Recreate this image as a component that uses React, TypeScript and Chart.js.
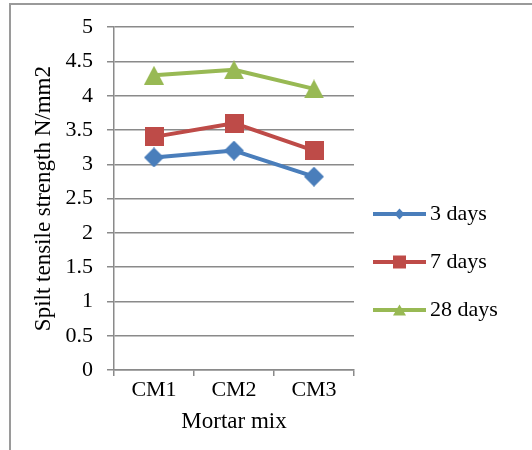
import React, { useEffect, useRef } from 'react';
import { Chart, registerables } from 'chart.js';

Chart.register(...registerables);

const categories = ['CM1', 'CM2', 'CM3'];
const seriesNames = ['3 days', '7 days', '28 days'];
const days3 = [3.1, 3.2, 2.82];
const days7 = [3.4, 3.6, 3.2];
const days28 = [4.3, 4.38, 4.1];
const yTickLabels = ['0', '0.5', '1', '1.5', '2', '2.5', '3', '3.5', '4', '4.5', '5'];
const xTitle = 'Mortar mix';
const yTitle = 'Spilt tensile strength N/mm2';

const lineColors = ['#4A7EBB', '#BE4B48', '#98B954'];
const shapes = ['diamond', 'square', 'triangle'];
const markerSizes: [number, number][] = [[20, 20], [19, 19], [20, 19]];
const legendMarkerSizes: [number, number][] = [[10, 11], [13, 13], [13, 11]];
const GRID = '#8a8a8a';
const FONT = "'Liberation Serif', 'Times New Roman', serif";

function drawShape(ctx: CanvasRenderingContext2D, shape: string, cx: number, cy: number, w: number, h: number, color: string) {
  ctx.fillStyle = color;
  ctx.beginPath();
  if (shape === 'diamond') {
    ctx.moveTo(cx, cy - h / 2);
    ctx.lineTo(cx + w / 2, cy);
    ctx.lineTo(cx, cy + h / 2);
    ctx.lineTo(cx - w / 2, cy);
  } else if (shape === 'square') {
    ctx.rect(cx - w / 2, cy - h / 2, w, h);
  } else {
    ctx.moveTo(cx, cy - h / 2);
    ctx.lineTo(cx + w / 2, cy + h / 2);
    ctx.lineTo(cx - w / 2, cy + h / 2);
  }
  ctx.closePath();
  ctx.fill();
}

function makeMarker(shape: string, w: number, h: number, color: string) {
  const c = document.createElement('canvas');
  c.width = w;
  c.height = h;
  const ctx = c.getContext('2d')!;
  drawShape(ctx, shape, w / 2, h / 2, w, h, color);
  return c;
}

function makeLegendIcon(shape: string, w: number, h: number, color: string) {
  const c = document.createElement('canvas');
  c.width = 53;
  c.height = 22;
  const ctx = c.getContext('2d')!;
  ctx.strokeStyle = color;
  ctx.lineWidth = 4;
  ctx.beginPath();
  ctx.moveTo(0, 11);
  ctx.lineTo(53, 11);
  ctx.stroke();
  drawShape(ctx, shape, 26.5, 11, w, h, color);
  return c;
}

const framePlugin = {
  id: 'frame',
  beforeDraw(chart: any) {
    const ctx = chart.ctx;
    ctx.save();
    ctx.fillStyle = '#9a9a9a';
    ctx.fillRect(9, 3, chart.width - 9, 2);
    ctx.fillRect(9, 3, 2, chart.height - 3);
    ctx.restore();
  },
};

const legendWidthPlugin = {
  id: 'legendWidth',
  beforeLayout(chart: any) {
    const lg = chart.legend;
    if (lg && !lg.__patched) {
      const orig = lg.fit;
      lg.fit = function () {
        orig.call(this);
        this.width = 178;
      };
      lg.__patched = true;
    }
  },
};

export default function App() {
  const ref = useRef<HTMLCanvasElement>(null);

  useEffect(() => {
    if (!ref.current) return;
    Chart.defaults.font.family = FONT;
    Chart.defaults.font.size = 22;
    Chart.defaults.color = '#000';

    const values = [days3, days7, days28];
    const markers = shapes.map((s, i) => makeMarker(s, markerSizes[i][0], markerSizes[i][1], lineColors[i]));
    const legendIcons = shapes.map((s, i) => makeLegendIcon(s, legendMarkerSizes[i][0], legendMarkerSizes[i][1], lineColors[i]));

    const chart = new Chart(ref.current, {
      type: 'line',
      data: {
        labels: categories,
        datasets: seriesNames.map((name, i) => ({
          label: name,
          data: values[i],
          borderColor: lineColors[i],
          backgroundColor: lineColors[i],
          borderWidth: 4,
          borderJoinStyle: 'round',
          tension: 0,
          pointStyle: markers[i] as any,
          pointRadius: 10,
          fill: false,
        })),
      },
      options: {
        responsive: false,
        maintainAspectRatio: false,
        animation: false,
        events: [],
        layout: { padding: { top: 24, right: 0, bottom: 0, left: 0 } },
        scales: {
          x: {
            type: 'category',
            offset: true,
            grid: {
              display: true,
              drawOnChartArea: false,
              drawTicks: true,
              tickLength: 6,
              offset: true,
              color: GRID,
              lineWidth: 1.5,
            },
            border: { color: GRID, width: 1.5 },
            ticks: { padding: 1, color: '#000', font: { size: 22 } },
            title: {
              display: true,
              text: xTitle,
              color: '#000',
              font: { size: 23 },
              padding: { top: 0, bottom: 14.5 },
            },
            afterFit: (s: any) => {
              s.height = 80;
            },
          },
          y: {
            min: 0,
            max: 5,
            ticks: {
              stepSize: 0.5,
              padding: 14,
              color: '#000',
              font: { size: 22 },
              callback: (_v: any, i: number) => yTickLabels[i],
            },
            grid: { color: GRID, lineWidth: 1.5, tickLength: 7, drawTicks: true },
            border: { color: GRID, width: 1.5 },
            title: {
              display: true,
              text: yTitle,
              color: '#000',
              font: { size: 23 },
              padding: { top: 30.5, bottom: 0 },
            },
            afterFit: (s: any) => {
              s.width = 114;
            },
          },
        },
        plugins: {
          tooltip: { enabled: false },
          legend: {
            position: 'right',
            align: 'center',
            title: {
              display: true,
              text: '',
              padding: { top: 35.6, bottom: 0 },
              font: { size: 12, lineHeight: 1.2 },
            },
            labels: {
              usePointStyle: true,
              pointStyleWidth: 39,
              padding: 26,
              color: '#000',
              font: { size: 22 },
              generateLabels: (ch: any) => {
                const items = (Chart.defaults.plugins.legend.labels as any).generateLabels(ch);
                return items.map((it: any) => ({ ...it, pointStyle: legendIcons[it.datasetIndex] }));
              },
            },
          },
        },
      } as any,
      plugins: [framePlugin, legendWidthPlugin],
    });

    return () => chart.destroy();
  }, []);

  return (
    <div style={{ position: 'fixed', left: 0, top: 0, width: 532, height: 450, background: '#fff' }}>
      <canvas ref={ref} width={532} height={450} style={{ display: 'block', width: 532, height: 450 }} />
    </div>
  );
}
